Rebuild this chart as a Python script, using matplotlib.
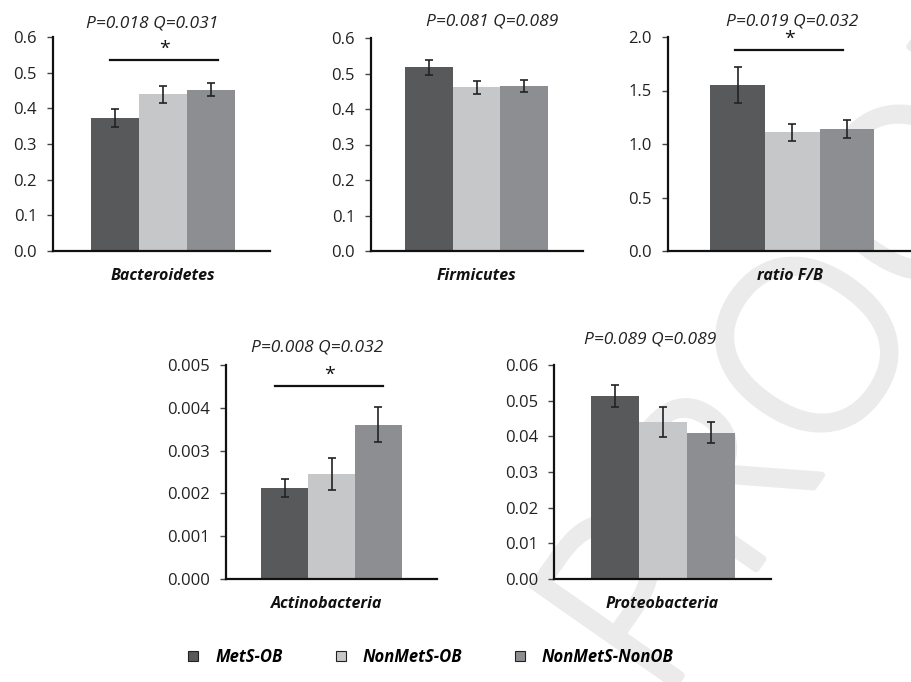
import matplotlib
matplotlib.use("Agg")
import matplotlib.pyplot as plt
import matplotlib.patheffects as pe
from matplotlib.patches import Patch

# Group labels and colours
groups = ["MetS-OB", "NonMetS-OB", "NonMetS-NonOB"]
group_colors = ["#58595b", "#c6c7c8", "#8d8e91"]

# Relative abundance per phylum (mean, SEM) for each group
bacteroidetes_mean = [0.373, 0.440, 0.452]
bacteroidetes_err = [0.024, 0.024, 0.018]
firmicutes_mean = [0.517, 0.461, 0.464]
firmicutes_err = [0.022, 0.018, 0.017]
ratio_fb_mean = [1.55, 1.11, 1.14]
ratio_fb_err = [0.17, 0.08, 0.08]
actinobacteria_mean = [0.00213, 0.00245, 0.00360]
actinobacteria_err = [0.00021, 0.00037, 0.00041]
proteobacteria_mean = [0.0513, 0.0441, 0.0410]
proteobacteria_err = [0.0031, 0.0042, 0.0029]

panel_names = ["Bacteroidetes", "Firmicutes", "ratio F/B", "Actinobacteria", "Proteobacteria"]
panel_stats = ["P=0.018 Q=0.031", "P=0.081 Q=0.089", "P=0.019 Q=0.032",
               "P=0.008 Q=0.032", "P=0.089 Q=0.089"]
panel_ticks = [
    [0.0, 0.1, 0.2, 0.3, 0.4, 0.5, 0.6],
    [0.0, 0.1, 0.2, 0.3, 0.4, 0.5, 0.6],
    [0.0, 0.5, 1.0, 1.5, 2.0],
    [0.000, 0.001, 0.002, 0.003, 0.004, 0.005],
    [0.00, 0.01, 0.02, 0.03, 0.04, 0.05, 0.06],
]
panel_tick_fmt = ["{:.1f}", "{:.1f}", "{:.1f}", "{:.3f}", "{:.2f}"]
# Significance bracket: (y level, x start, x end, star y) or None
panel_sig = [(0.536, -0.10, 2.15, 0.567), None, (1.878, -0.04, 1.93, 1.985),
             (0.00452, -0.20, 2.10, 0.00477), None]

means = [bacteroidetes_mean, firmicutes_mean, ratio_fb_mean, actinobacteria_mean, proteobacteria_mean]
errs = [bacteroidetes_err, firmicutes_err, ratio_fb_err, actinobacteria_err, proteobacteria_err]

W, H = 911, 682
fig = plt.figure(figsize=(W / 100, H / 100), dpi=100)

# axes boxes in pixels: left, right, top, bottom
boxes = [(53, 270, 37, 251), (371, 583, 38, 251), (668, 911, 37, 251),
         (226, 437, 365, 579), (554, 771, 365, 579)]
xlims = [(-1.29, 3.23), (-1.21, 3.23), (-1.27, 3.17), (-1.245, 3.245), (-1.27, 3.25)]
title_x = [0.77, 1.32, 1.0, 0.69, 0.73]
title_dy = [14, 16, 15, 17, 25]
label_x = [1.0, 1.0, 0.96, 0.9, 0.98]

FONT = "Open Sans"

# faint diagonal watermark behind the panels
wm_color = "#ebebeb"
fig.text(832 / W, 1 - 350 / H, "PROOF", rotation=55, fontsize=175, color=wm_color,
         family="Open Sans", fontweight=300, ha="center", va="center", zorder=-5,
         path_effects=[pe.withStroke(linewidth=5, foreground=wm_color)])

for i in range(5):
    l, r, t, b = boxes[i]
    ax = fig.add_axes([l / W, 1 - b / H, (r - l) / W, (b - t) / H])
    ax.set_facecolor("none")
    x = list(range(3))
    ax.bar(x, means[i], width=1.0, color=group_colors, edgecolor="none", zorder=2)
    ax.errorbar(x, means[i], yerr=errs[i], fmt="none", ecolor="#222222",
                elinewidth=1.2, capsize=3.2, capthick=1.2, zorder=3)
    ticks = panel_ticks[i]
    ax.set_ylim(ticks[0], ticks[-1])
    ax.set_xlim(*xlims[i])
    ax.set_yticks(ticks)
    ax.set_yticklabels([panel_tick_fmt[i].format(v) for v in ticks],
                       family=FONT, fontsize=12, color="#222222")
    ax.set_xticks([])
    for s in ["top", "right"]:
        ax.spines[s].set_visible(False)
    for s in ["left", "bottom"]:
        ax.spines[s].set_linewidth(1.6)
        ax.spines[s].set_color("#111111")
    ax.tick_params(axis="y", length=4, width=1.0, pad=7.5, color="#444444")
    tr = ax.get_xaxis_transform()
    ax.annotate(panel_stats[i], xy=(title_x[i], 1.0), xycoords=tr,
                xytext=(0, title_dy[i] * 0.72), textcoords="offset points",
                ha="center", va="center", family=FONT, style="italic",
                fontsize=12.5, color="#222222", annotation_clip=False)
    ax.annotate(panel_names[i], xy=(label_x[i], 0.0), xycoords=tr,
                xytext=(0, -24.5 * 0.72), textcoords="offset points",
                ha="center", va="center", family=FONT, style="italic",
                fontweight="bold", fontsize=11.5, color="#111111",
                annotation_clip=False)
    sig = panel_sig[i]
    if sig is not None:
        y, x0, x1, ys = sig
        ax.plot([x0, x1], [y, y], color="#111111", lw=1.6, clip_on=False, zorder=4)
        ax.text((x0 + x1) / 2, ys, "*", ha="center", va="center",
                family=FONT, fontsize=14, color="#111111", clip_on=False)

handles = [Patch(facecolor=c, edgecolor="#222222", linewidth=0.8) for c in group_colors]
leg = fig.legend(handles, groups, loc="center", bbox_to_anchor=(431 / W, 1 - 657 / H),
                 ncol=3, frameon=False, handlelength=0.6, handleheight=0.6,
                 handletextpad=1.0, columnspacing=3.2,
                 prop={"family": FONT, "style": "italic", "weight": "bold", "size": 12})

fig.savefig("out.png", dpi=100)
